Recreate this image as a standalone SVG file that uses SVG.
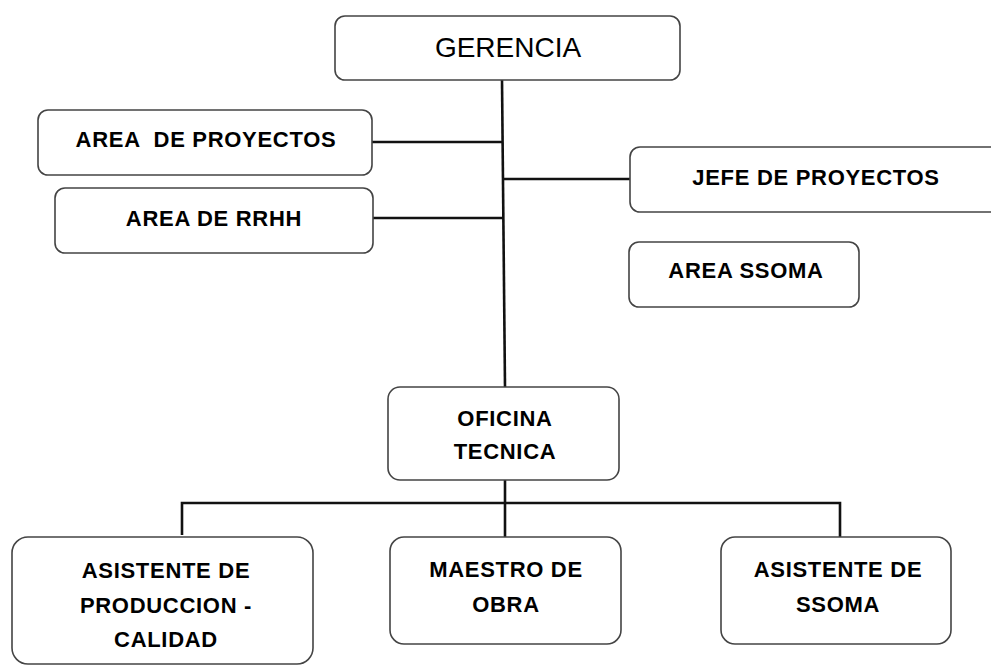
<svg xmlns="http://www.w3.org/2000/svg" width="991" height="665" viewBox="0 0 991 665">
<style>
.box{fill:#fff;stroke:#444;stroke-width:1.6}
.t{font-family:"Liberation Sans",Arial,sans-serif;font-size:22px;font-weight:bold;fill:#000;text-anchor:middle;white-space:pre;letter-spacing:0.7px}
.g{font-family:"Liberation Sans",Arial,sans-serif;font-size:28px;fill:#000;text-anchor:middle}
.c{stroke:#111;stroke-width:2.6;fill:none}
</style>
<rect width="991" height="665" fill="#fff"/>
<g id="connectors">
<line class="c" x1="502" y1="80" x2="505" y2="387"/>
<line class="c" x1="372" y1="142" x2="502" y2="142"/>
<line class="c" x1="373" y1="218" x2="503" y2="218"/>
<line class="c" x1="502" y1="179" x2="630" y2="179"/>
<line class="c" x1="505" y1="480" x2="505" y2="537"/>
<polyline class="c" points="182,535 182,503 840,503 840,537"/>
</g>
<g id="gerencia">
<rect class="box" x="335" y="16" width="345" height="64" rx="10"/>
<text class="g" x="508" y="57">GERENCIA</text>
</g>
<g id="area-proyectos">
<rect class="box" x="38" y="110" width="334" height="65" rx="10"/>
<text class="t" x="206" y="147" xml:space="preserve">AREA  DE PROYECTOS</text>
</g>
<g id="area-rrhh">
<rect class="box" x="55" y="188" width="318" height="65" rx="10"/>
<text class="t" x="214" y="226">AREA DE RRHH</text>
</g>
<g id="jefe-proyectos">
<rect class="box" x="630" y="147" width="380" height="65" rx="10"/>
<text class="t" x="816" y="185">JEFE DE PROYECTOS</text>
</g>
<g id="area-ssoma">
<rect class="box" x="629" y="242" width="230" height="65" rx="10"/>
<text class="t" x="746" y="278">AREA SSOMA</text>
</g>
<g id="oficina-tecnica">
<rect class="box" x="388" y="387" width="231" height="93" rx="12"/>
<text class="t" x="505" y="426">OFICINA</text>
<text class="t" x="505" y="459">TECNICA</text>
</g>
<g id="asistente-produccion">
<rect class="box" x="12" y="537" width="301" height="127" rx="16"/>
<text class="t" x="166" y="578">ASISTENTE DE</text>
<text class="t" x="166" y="613">PRODUCCION -</text>
<text class="t" x="166" y="647">CALIDAD</text>
</g>
<g id="maestro-obra">
<rect class="box" x="390" y="537" width="231" height="107" rx="14"/>
<text class="t" x="506" y="577">MAESTRO DE</text>
<text class="t" x="506" y="612">OBRA</text>
</g>
<g id="asistente-ssoma">
<rect class="box" x="721" y="537" width="230" height="107" rx="14"/>
<text class="t" x="838" y="577">ASISTENTE DE</text>
<text class="t" x="838" y="612">SSOMA</text>
</g>
</svg>
